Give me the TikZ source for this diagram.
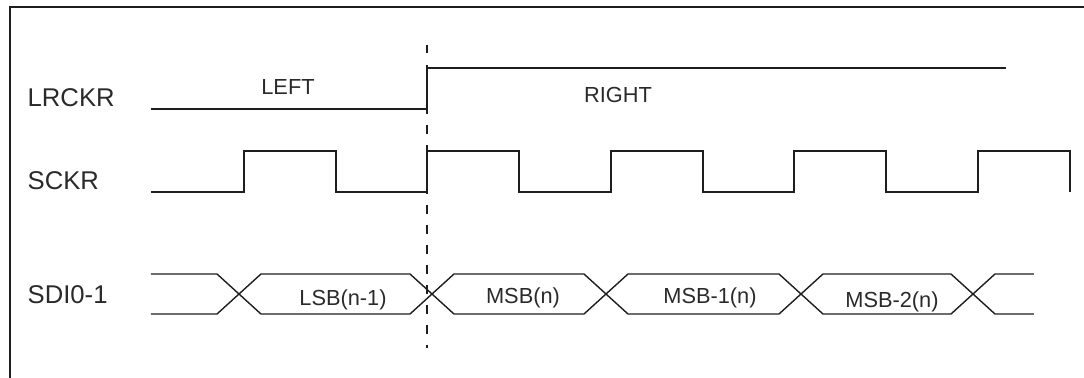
\documentclass[tikz,border=0pt]{standalone}
\usepackage{fontspec}
\setmainfont{Liberation Sans}
\definecolor{ink}{HTML}{1E1E1E}
\definecolor{txtgray}{HTML}{2A2A2A}
\tikzset{
  sig/.style={ink, line width=0.6pt},
  bus/.style={ink, line width=0.4pt},
  signame/.style={anchor=west, inner sep=0pt, text=txtgray, font=\fontsize{7.3}{9}\selectfont},
  chan/.style={inner sep=0pt, text=txtgray, font=\fontsize{6.2}{8}\selectfont},
  word/.style={anchor=base, inner sep=0pt, text=txtgray, font=\fontsize{6.2}{8}\selectfont}
}
\begin{document}
\begin{tikzpicture}
\useasboundingbox (0,0) rectangle (10.84,-3.78);
\draw[ink, line width=0.8pt] (0.10,-3.78) -- (0.10,-0.07) -- (10.84,-0.07);
\node[signame] (lrckr) at (0.27,-0.98) {LRCKR};
\node[signame] (sckr) at (0.27,-1.81) {SCKR};
\node[signame] (sdi) at (0.27,-2.95) {SDI0-1};
\draw[ink, line width=0.65pt, dash pattern=on 2.4pt off 3.3pt] (4.27,-0.45) -- (4.27,-3.48);
\coordinate (A) at (1.51,-1.09);
\coordinate (B) at (4.27,-1.09);
\coordinate (C) at (4.27,-0.68);
\coordinate (D) at (10.06,-0.68);
\draw[sig] (A) -- (B) -- (C) -- (D);
\node[chan] (left) at (2.88,-0.87) {LEFT};
\node[chan] (right) at (6.18,-0.95) {RIGHT};
\draw[sig] (1.51,-1.92) -- (2.44,-1.92) |- (3.36,-1.51) |- (4.27,-1.92) |- (5.19,-1.51) |- (6.11,-1.92) |- (7.03,-1.51) |- (7.94,-1.92) |- (8.86,-1.51) |- (9.78,-1.92) |- (10.70,-1.51) -- (10.70,-1.92);
\coordinate (X1) at (2.39,-2.94);
\coordinate (X2) at (4.32,-2.94);
\coordinate (X3) at (6.06,-2.94);
\coordinate (X4) at (8.01,-2.94);
\coordinate (X5) at (9.73,-2.94);
\draw[bus] (1.51,-2.74) -- ([shift={(-0.22,0.20)}]X1) -- (X1) -- ([shift={(-0.22,-0.20)}]X1) -- (1.51,-3.14);
\draw[bus] (X1) -- ([shift={(0.22,0.20)}]X1) -- ([shift={(-0.22,0.20)}]X2) -- (X2) -- ([shift={(-0.22,-0.20)}]X2) -- ([shift={(0.22,-0.20)}]X1) -- cycle;
\draw[bus] (X2) -- ([shift={(0.22,0.20)}]X2) -- ([shift={(-0.22,0.20)}]X3) -- (X3) -- ([shift={(-0.22,-0.20)}]X3) -- ([shift={(0.22,-0.20)}]X2) -- cycle;
\draw[bus] (X3) -- ([shift={(0.22,0.20)}]X3) -- ([shift={(-0.22,0.20)}]X4) -- (X4) -- ([shift={(-0.22,-0.20)}]X4) -- ([shift={(0.22,-0.20)}]X3) -- cycle;
\draw[bus] (X4) -- ([shift={(0.22,0.20)}]X4) -- ([shift={(-0.22,0.20)}]X5) -- (X5) -- ([shift={(-0.22,-0.20)}]X5) -- ([shift={(0.22,-0.20)}]X4) -- cycle;
\draw[bus] (10.34,-2.74) -- ([shift={(0.22,0.20)}]X5) -- (X5) -- ([shift={(0.22,-0.20)}]X5) -- (10.34,-3.14);
\node[word] (lsb) at (3.43,-3.06) {LSB(n-1)};
\node[word] (msb) at (5.23,-3.04) {MSB(n)};
\node[word] (msbone) at (7.10,-3.04) {MSB-1(n)};
\node[word] (msbtwo) at (8.92,-3.07) {MSB-2(n)};
\end{tikzpicture}
\end{document}
